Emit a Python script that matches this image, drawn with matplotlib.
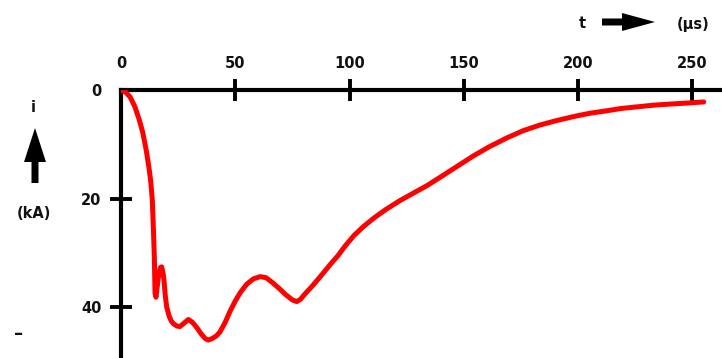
import matplotlib
matplotlib.use("Agg")
import matplotlib.pyplot as plt
from matplotlib.patches import FancyArrow

# current waveform: time (us) vs current (kA)
t_us = [0, 2, 4, 6, 8, 9.5, 11, 12.2, 13, 13.7, 14.2, 14.6, 14.9, 15.3,
        16.5, 17.3, 17.8, 18.3, 18.8, 19.4, 20, 21, 22, 23, 24.4, 25.8,
        27.5, 29.5, 31.2, 33, 35, 36.8, 38.2, 40, 41.8, 43.3, 45.5, 47.7,
        50, 52.1, 55, 58, 60.9, 63.5, 66, 69, 72, 75, 76.9, 78.5, 80.5, 84,
        88, 91.5, 95, 98, 102, 106, 111, 116, 122, 128, 134, 140, 147, 154,
        161, 169, 176, 183, 190, 198, 205, 213, 219, 226, 233, 240, 248, 255]
i_ka = [0, 0.4, 1.3, 3.0, 5.5, 7.8, 11, 14.2, 16.8, 20.3, 25.8, 31, 37.5, 38.2,
        34, 32.7, 32.6, 33.5, 35, 38, 40, 41.6, 42.6, 43.1, 43.5, 43.6,
        43, 42.3, 42.8, 43.7, 44.9, 45.8, 46.1, 45.8, 45.3, 44.6, 42.9, 40.8,
        38.9, 37.4, 35.8, 34.8, 34.4, 34.6, 35.4, 36.5, 37.7, 38.7, 39.0, 38.6,
        37.6, 36, 34, 32.2, 30.5, 28.8, 26.8, 25.2, 23.5, 22.0, 20.4, 19.0,
        17.6, 16.0, 14.1, 12.2, 10.5, 8.8, 7.5, 6.5, 5.7, 4.9, 4.3, 3.8, 3.4,
        3.1, 2.8, 2.6, 2.4, 2.2]

x_ticks = [0, 50, 100, 150, 200, 250]
y_ticks = [0, 20, 40]

plt.rcParams['font.family'] = ['DejaVu Sans']
plt.rcParams['font.weight'] = 'bold'
ink = '#111111'

fig = plt.figure(figsize=(7.22, 3.58), dpi=100)
ax = fig.add_axes([121 / 722, 0, 601 / 722, 268 / 358])
ax.plot(t_us, i_ka, color='#ff0000', lw=3.6, solid_joinstyle='round',
        solid_capstyle='round', zorder=3)
ax.set_xlim(0, 263)
ax.set_ylim(49.4, 0)

for s in ['right', 'bottom']:
    ax.spines[s].set_visible(False)
for s in ['top', 'left']:
    ax.spines[s].set_linewidth(3)
    ax.spines[s].set_color('black')

ax.xaxis.tick_top()
ax.set_xticks(x_ticks)
ax.set_yticks(y_ticks)
ax.tick_params(direction='inout', length=16, width=2.8, labelsize=10.5,
               labelcolor=ink, color='black')
ax.tick_params(axis='x', pad=6)
ax.tick_params(axis='y', pad=6)
ax.xaxis.get_major_ticks()[0].tick2line.set_visible(False)
ax.yaxis.get_major_ticks()[0].tick1line.set_visible(False)

# overlay in pixel units for the axis captions and arrows
ov = fig.add_axes([0, 0, 1, 1])
ov.set_xlim(0, 722)
ov.set_ylim(358, 0)
ov.axis('off')
ov.patch.set_alpha(0)

ov.add_patch(FancyArrow(602, 22, 53, 0, width=7, head_width=18, head_length=33,
                        length_includes_head=True, color='black', lw=0))
ov.add_patch(FancyArrow(35, 183, 0, -55, width=7, head_width=22, head_length=34,
                        length_includes_head=True, color='black', lw=0))

ov.text(582, 24, 't', ha='center', va='center', fontsize=10.5, color=ink)
ov.text(693, 24, '(µs)', ha='center', va='center', fontsize=10.5, color=ink)
ov.text(33, 107, 'i', ha='center', va='center', fontsize=10.5, color=ink)
ov.text(34, 214, '(kA)', ha='center', va='center', fontsize=10.5, color=ink)
ov.text(19, 334, '–', ha='center', va='center', fontsize=13, color=ink)

fig.savefig('out.png', dpi=100)
